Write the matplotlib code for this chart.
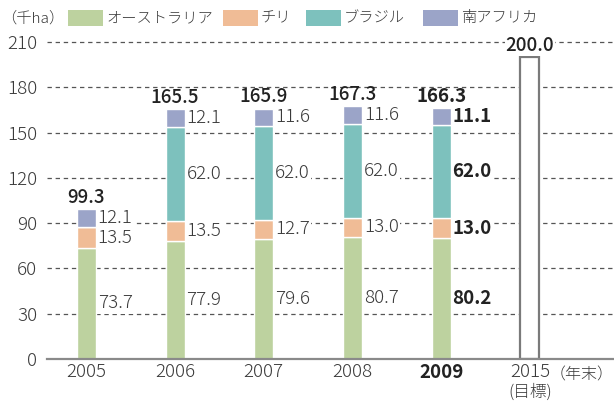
import matplotlib
matplotlib.use('Agg')
import matplotlib.pyplot as plt
from matplotlib.patches import Rectangle
import matplotlib.transforms as mtransforms

plt.rcParams['font.family'] = ['Noto Sans CJK JP', 'DejaVu Sans']

# ---- data ----
years = ['2005', '2006', '2007', '2008', '2009']
australia = [73.7, 77.9, 79.6, 80.7, 80.2]
chile = [13.5, 13.5, 12.7, 13.0, 13.0]
brazil = [0.0, 62.0, 62.0, 62.0, 62.0]
south_africa = [12.1, 12.1, 11.6, 11.6, 11.1]
totals = [99.3, 165.5, 165.9, 167.3, 166.3]
target_year = '2015'
target_note = '(目標)'
target_value = 200.0
series_names = ['オーストラリア', 'チリ', 'ブラジル', '南アフリカ']
yticks = [0, 30, 60, 90, 120, 150, 180, 210]
unit_label = '（千ha）'
x_unit_label = '（年末）'
highlight_year = '2009'

colors = ['#BDD29F', '#F0BC96', '#7DC1BD', '#9BA4C8']
txt_color = '#3a3a3a'
LW = 'light'

W, H = 614, 401
fig = plt.figure(figsize=(W / 100, H / 100), dpi=100)
ax_left, ax_right = 47, 614
y0_px, ytop_px = 359, 40.5
ax = fig.add_axes([ax_left / W, 1 - y0_px / H, (ax_right - ax_left) / W, (y0_px - ytop_px) / H])

series = [australia, chile, brazil, south_africa]
xs = list(range(len(years)))
x_target = len(years)
bw = 0.215

bottoms = [0.0] * len(years)
for vals, col in zip(series, colors):
    ax.bar(xs, vals, bw, bottom=bottoms, color=col, edgecolor='white', linewidth=1.0, zorder=3)
    for i, v in enumerate(vals):
        if v <= 0:
            continue
        bold = years[i] == highlight_year
        ax.text(xs[i] + bw / 2 + 0.02, bottoms[i] + v / 2, f'{v:.1f}',
                ha='left', va='center', fontsize=13.5,
                fontweight='bold' if bold else LW,
                color='#222222' if bold else txt_color, zorder=4,
                bbox=dict(boxstyle='square,pad=0.08', fc='white', ec='none'))
    bottoms = [b + v for b, v in zip(bottoms, vals)]

for i, t in enumerate(totals):
    bold = years[i] == highlight_year
    ax.text(xs[i], t + 1.5, f'{t:.1f}', ha='center', va='bottom', fontsize=13.5,
            fontweight='bold' if bold else 'medium', color='#222222', zorder=4)

# target bar
ax.bar([x_target], [target_value], bw, color='white', edgecolor='#7a7a7a', linewidth=1.6, zorder=3)
ax.text(x_target, target_value + 1.5, f'{target_value:.1f}', ha='center', va='bottom', fontsize=13.5,
        fontweight='medium', color='#222222', zorder=4, clip_on=False,
        bbox=dict(boxstyle='square,pad=0.05', fc='white', ec='none'))

ax.set_xlim(-0.444, 5.948)
ax.set_ylim(0, 211)
ax.set_yticks(yticks)
ax.set_yticklabels([str(v) for v in yticks], fontsize=13.5, color=txt_color, fontweight=LW)
ax.set_xticks(xs + [x_target])
ax.set_xticklabels(years + [target_year], fontsize=13.5, color=txt_color, fontweight=LW)
for lbl in ax.get_xticklabels():
    if lbl.get_text() == highlight_year:
        lbl.set_fontweight('bold')
        lbl.set_color('#222222')
ax.tick_params(axis='both', length=0)
ax.tick_params(axis='y', pad=7)
ax.tick_params(axis='x', pad=3)

for s in ['top', 'right', 'left']:
    ax.spines[s].set_visible(False)
ax.spines['bottom'].set_color('#8a8a8a')
ax.spines['bottom'].set_linewidth(1.6)
ax.spines['bottom'].set_zorder(5)

ax.yaxis.grid(True, linestyle=(0, (3.5, 3)), color='#555555', linewidth=0.9, zorder=1)
ax.set_axisbelow(True)
ax.patch.set_alpha(0)

trans = mtransforms.blended_transform_factory(ax.transData, fig.transFigure)
ax.text(x_target, 1 - 392 / H, target_note, transform=trans, ha='center', va='center',
        fontsize=12, color=txt_color, fontweight=LW)
ax.text(5.585, 1 - 375 / H, x_unit_label, transform=trans, ha='center', va='center',
        fontsize=11.5, color=txt_color, fontweight=LW)

# legend
fig.text(1 / W, 1 - 18 / H, unit_label, ha='left', va='center', fontsize=11, color=txt_color, fontweight=LW)
patch_x = [68, 223, 306, 423]
for px, col, name in zip(patch_x, colors, series_names):
    fig.patches.append(Rectangle((px / W, 1 - 26 / H), 35 / W, 16 / H, transform=fig.transFigure,
                                 facecolor=col, edgecolor='none'))
    fig.text((px + 38) / W, 1 - 18 / H, name, ha='left', va='center', fontsize=11, color=txt_color,
             fontweight=LW)

fig.savefig('out.png', dpi=100, facecolor='white')
